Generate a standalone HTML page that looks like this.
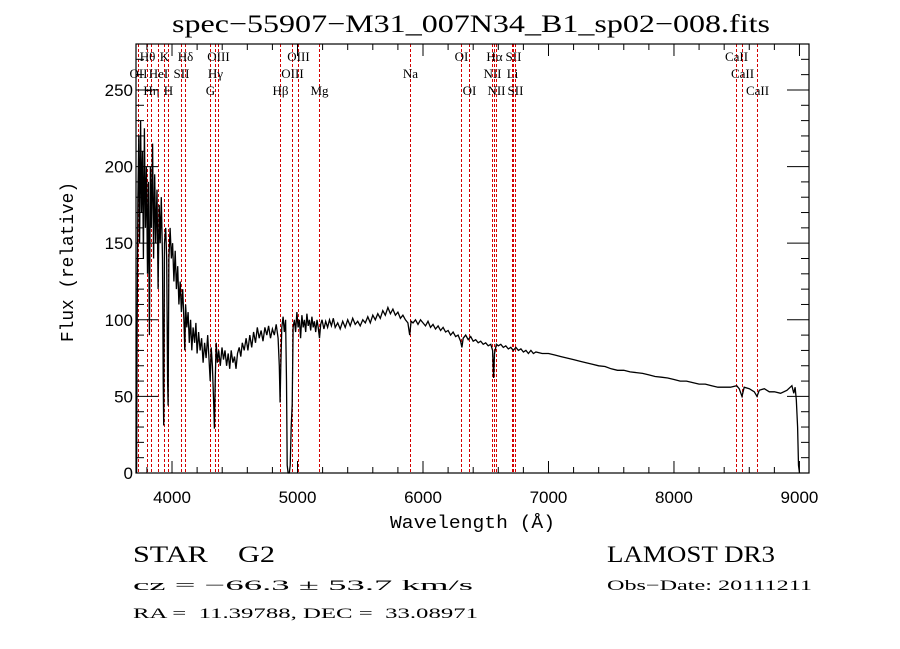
<!DOCTYPE html>
<html><head><meta charset="utf-8"><style>
html,body{margin:0;padding:0;background:#fff;}
svg{display:block;}
text{white-space:pre;}
.t{font-family:"Liberation Serif",serif;}
.s{font-family:"Liberation Sans",sans-serif;}
</style></head><body>
<svg id="chart" width="900" height="649" viewBox="0 0 900 649" xmlns="http://www.w3.org/2000/svg" xml:space="preserve">
<rect width="900" height="649" fill="#fff"/>
<text class="t" x="172" y="32" font-size="25" textLength="598" lengthAdjust="spacingAndGlyphs">spec−55907−M31_007N34_B1_sp02−008.fits</text>
<g id="lines"></g>
<g id="ticks"></g>
<path id="spec" fill="none" stroke="#000" stroke-width="1.3"/>
<rect x="136" y="44" width="673" height="429" fill="none" stroke="#000" stroke-width="1.2"/>
<text x="390" y="528" font-family="Liberation Mono, monospace" font-size="18" textLength="165" lengthAdjust="spacingAndGlyphs">Wavelength (Å)</text>
<text transform="translate(73,342) rotate(-90)" font-family="Liberation Mono, monospace" font-size="18" textLength="160" lengthAdjust="spacingAndGlyphs">Flux (relative)</text>
<text class="t" x="133" y="562" font-size="23" textLength="142" lengthAdjust="spacingAndGlyphs">STAR    G2</text>
<text class="t" x="607" y="562" font-size="23" textLength="168" lengthAdjust="spacingAndGlyphs">LAMOST DR3</text>
<text class="t" x="133" y="590" font-size="15" textLength="340" lengthAdjust="spacingAndGlyphs">cz = −66.3 ± 53.7 km/s</text>
<text class="t" x="607" y="590" font-size="15" textLength="205" lengthAdjust="spacingAndGlyphs">Obs−Date: 20111211</text>
<text class="t" x="133" y="618" font-size="15" textLength="345" lengthAdjust="spacingAndGlyphs">RA =  11.39788, DEC =  33.08971</text>
</svg>
<script>
const waves=[3718,3722,3728,3735,3742,3750,3757,3765,3772,3780,3788,3796,3805,3812,3820,3828,3836,3845,3853,3862,3870,3880,3889,3898,3906,3915,3924,3930,3934,3940,3950,3958,3965,3969,3975,3985,3995,4005,4015,4025,4035,4045,4055,4065,4075,4085,4095,4102,4108,4118,4128,4138,4148,4158,4168,4180,4190,4200,4212,4224,4236,4248,4260,4272,4284,4296,4304,4312,4322,4332,4338,4344,4352,4362,4372,4385,4398,4410,4422,4435,4448,4460,4472,4485,4498,4510,4522,4535,4548,4560,4575,4590,4605,4620,4635,4650,4665,4680,4695,4710,4725,4740,4755,4770,4785,4800,4815,4830,4845,4855,4861,4867,4875,4885,4895,4905,4912,4918,4925,4935,4942,4950,4958,4965,4975,4985,4995,5005,5015,5025,5035,5045,5055,5065,5075,5085,5095,5105,5115,5125,5135,5145,5155,5165,5175,5185,5195,5210,5225,5240,5255,5270,5285,5300,5320,5340,5360,5380,5400,5420,5440,5460,5480,5500,5520,5540,5560,5580,5600,5620,5640,5660,5680,5700,5720,5740,5760,5780,5800,5820,5840,5860,5880,5894,5905,5920,5940,5960,5980,6000,6020,6040,6060,6080,6100,6120,6140,6160,6180,6200,6220,6240,6260,6280,6300,6310,6320,6340,6360,6380,6400,6420,6440,6460,6480,6500,6520,6540,6555,6563,6570,6585,6600,6620,6640,6660,6680,6700,6720,6740,6760,6780,6800,6820,6840,6860,6880,6900,6950,7000,7050,7100,7150,7200,7250,7300,7350,7400,7450,7500,7550,7600,7650,7700,7750,7800,7850,7900,7950,8000,8050,8100,8150,8200,8250,8300,8350,8400,8450,8500,8520,8542,8560,8600,8640,8662,8680,8720,8760,8800,8850,8900,8940,8955,8965,8975,8985,8992,9000];
const flux=[0,90,180,220,150,230,170,210,140,225,160,200,130,190,90,200,160,215,140,195,150,185,120,175,150,180,140,60,31,150,160,140,60,44,140,160,140,150,125,145,120,135,110,125,105,120,100,80,110,95,105,85,100,80,95,85,98,78,92,80,88,72,85,75,90,72,60,82,70,45,29,60,85,72,80,70,82,74,80,70,78,68,80,72,76,68,78,82,76,85,80,88,80,90,82,92,85,95,88,93,86,95,90,96,88,94,90,97,88,70,46,70,95,102,92,100,60,5,0,0,5,30,45,95,100,92,105,95,100,88,103,95,100,92,104,96,100,93,102,95,99,92,100,95,88,97,100,94,99,95,100,96,101,95,98,94,99,95,100,96,101,97,99,96,100,98,102,98,103,100,104,101,106,103,108,104,107,103,105,101,103,100,98,90,99,98,100,97,100,98,96,99,95,97,94,96,93,95,92,93,90,92,89,90,86,82,88,90,87,89,86,87,85,86,84,85,83,84,80,62,78,84,83,84,82,83,81,82,80,82,80,81,79,80,78,80,78,79,78,78,77,76,75,74,73,72,71,70,69.5,68,67,67,66,65.5,65,64,63,62.5,62,61,60,60,59,58,58,57,56,56,56,57,55,50,56,55,53,50,54,55,53,53,52,54,57,52,56,48,30,5,0];
const lineWaves=[3727,3798,3835,3889,3934,3969,4072,4102,4304,4340,4363,4861,4959,5007,5175,5894,6300,6364,6548,6563,6583,6708,6716,6731,8498,8542,8662];
const lineNames=["OII","Hθ","Hη","HeI","K","H","SII","Hδ","G","Hγ","OIII","Hβ","OIII","OIII","Mg","Na","OI","OI","NII","Hα","NII","Li","SII","SII","CaII","CaII","CaII"];
const lineRows=[2,1,3,2,1,3,2,1,3,2,1,3,2,1,3,2,1,3,2,1,3,2,1,3,1,2,3];
const xTicks=[4000,5000,6000,7000,8000,9000];
const yTicks=[0,50,100,150,200,250];
const X0=136,X1=809,Y0=473,Y1=44,WMIN=3713,WMAX=9076,FMAX=280;
function xs(w){return X0+(w-WMIN)/(WMAX-WMIN)*(X1-X0);}
function ys(f){return Y0-f/FMAX*(Y0-Y1);}
const NS="http://www.w3.org/2000/svg";
function mk(tag,attrs,parent){const e=document.createElementNS(NS,tag);for(const k in attrs)e.setAttribute(k,attrs[k]);parent.appendChild(e);return e;}
let d="";
for(let i=0;i<waves.length;i++){d+=(i?"L":"M")+xs(waves[i]).toFixed(1)+","+ys(flux[i]).toFixed(1);}
document.getElementById("spec").setAttribute("d",d);
const lg=document.getElementById("lines");
for(let i=0;i<lineWaves.length;i++){
  const x=Math.round(xs(lineWaves[i]))+0.5;
  const l=mk("line",{x1:x,x2:x,y1:Y1,y2:Y0,stroke:"#d40000","stroke-width":1,"stroke-dasharray":"3,2"},lg);
  
  
  const t=mk("text",{x:x,y:[0,61,78,95][lineRows[i]],"font-size":13,"text-anchor":"middle","class":"t"},lg);
  t.textContent=lineNames[i];
  
  
}
const tg=document.getElementById("ticks");
for(let w=3800;w<=9000;w+=200){
  const x=xs(w);const major=(w%1000===0);const len=major?12:6;
  mk("line",{x1:x,x2:x,y1:Y0,y2:Y0-len,stroke:"#000"},tg);
  mk("line",{x1:x,x2:x,y1:Y1,y2:Y1+len,stroke:"#000"},tg);
}
for(const w of xTicks){
  const t=mk("text",{x:xs(w),y:503,"font-size":17,"text-anchor":"middle","class":"s"},tg);
  t.textContent=w;
  
  
}
for(let f=10;f<=270;f+=10){
  const y=ys(f);const major=(f%50===0);const len=major?22:8;
  mk("line",{x1:X0,x2:X0+len,y1:y,y2:y,stroke:"#000"},tg);
  mk("line",{x1:X1,x2:X1-len,y1:y,y2:y,stroke:"#000"},tg);
}
for(const f of yTicks){
  const t=mk("text",{x:X0-3,y:ys(f)+6,"font-size":17,"text-anchor":"end","class":"s"},tg);
  t.textContent=f;
  
  
}
</script>
</body></html>
